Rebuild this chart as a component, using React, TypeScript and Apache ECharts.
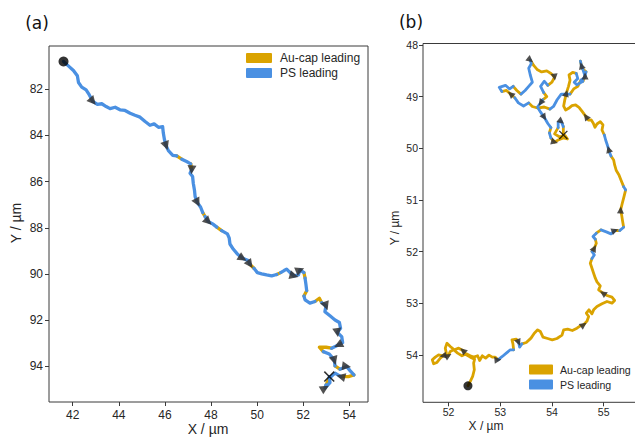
import React, { useEffect, useRef } from "react";
import * as echarts from "echarts";

// ---------- Panel (a) trajectory ----------
const aX = [41.60, 41.81, 42.03, 42.20, 42.25, 42.39, 42.58, 42.72, 42.87, 43.07, 43.26, 43.45, 43.62, 43.84, 44.05, 44.27, 44.49, 44.70, 44.92, 45.14, 45.35, 45.53, 45.72, 45.90, 45.93, 45.98, 46.05, 46.15, 46.34, 46.51, 46.73, 46.94, 47.12, 47.16, 47.09, 47.20, 47.23, 47.28, 47.31, 47.41, 47.55, 47.64, 47.74, 47.88, 48.07, 48.25, 48.46, 48.71, 48.79, 48.82, 48.97, 49.14, 49.37, 49.62, 49.69, 49.86, 50.01, 50.20, 50.41, 50.63, 50.85, 51.02, 51.17, 51.28, 51.43, 51.60, 51.79, 51.86, 52.03, 52.08, 52.12, 52.15, 52.03, 52.08, 52.29, 52.51, 52.70, 52.80, 52.99, 52.94, 53.16, 53.38, 53.57, 53.62, 53.48, 53.67, 53.71, 53.52, 53.23, 52.99, 52.70, 52.87, 53.13, 53.28, 53.35, 53.38, 53.59, 53.88, 54.03, 54.20, 53.96, 53.63, 53.38, 53.13, 52.99, 52.94, 53.16, 53.13];
const aY = [80.80, 80.99, 81.19, 81.42, 81.71, 81.91, 82.03, 82.25, 82.53, 82.66, 82.63, 82.75, 82.84, 82.78, 82.89, 82.92, 83.04, 83.13, 83.21, 83.40, 83.56, 83.50, 83.65, 83.62, 83.90, 84.19, 84.45, 84.66, 84.86, 84.89, 85.03, 85.13, 85.23, 85.49, 85.64, 85.78, 86.07, 86.36, 86.65, 86.91, 87.11, 87.34, 87.51, 87.73, 87.83, 87.97, 88.12, 88.26, 88.45, 88.70, 88.93, 89.13, 89.32, 89.42, 89.58, 89.75, 89.94, 89.99, 90.04, 90.08, 90.02, 89.94, 89.85, 89.79, 89.94, 90.08, 90.04, 89.82, 89.94, 90.18, 90.47, 90.72, 90.95, 91.12, 91.26, 91.19, 91.05, 91.24, 91.38, 91.63, 91.81, 91.99, 92.10, 92.35, 92.53, 92.71, 92.97, 93.07, 93.21, 93.17, 93.17, 93.36, 93.46, 93.64, 93.75, 93.98, 94.12, 94.00, 94.18, 94.37, 94.44, 94.44, 94.29, 94.51, 94.80, 94.94, 94.70, 94.44];
const aGoldSegs = [29, 32, 41, 45, 54, 60, 68, 71, 75, 76, 88, 89, 90, 95, 99, 100, 103];
const aMarkers = [8, 26, 33, 39, 43, 52, 54, 65, 67, 78, 84, 87, 94, 97, 101, 105];

// ---------- Panel (b) trajectory ----------
const bX = [52.374, 52.419, 52.465, 52.497, 52.484, 52.503, 52.419, 52.342, 52.277, 52.194, 52.110, 52.032, 51.968, 51.935, 51.955, 51.890, 51.806, 51.742, 51.684, 51.710, 51.774, 51.839, 51.916, 51.994, 52.032, 52.097, 52.174, 52.258, 52.342, 52.419, 52.484, 52.561, 52.600, 52.652, 52.716, 52.781, 52.845, 52.903, 52.955, 53.039, 53.116, 53.194, 53.258, 53.245, 53.226, 53.310, 53.355, 53.374, 53.419, 53.503, 53.594, 53.658, 53.723, 53.774, 53.826, 53.916, 54.006, 54.097, 54.194, 54.226, 54.303, 54.394, 54.484, 54.548, 54.613, 54.677, 54.710, 54.665, 54.716, 54.774, 54.806, 54.871, 54.968, 55.065, 55.161, 55.213, 55.161, 55.065, 54.987, 54.903, 54.935, 54.871, 54.839, 54.806, 54.774, 54.742, 54.774, 54.819, 54.774, 54.819, 54.858, 54.839, 54.794, 54.858, 54.948, 55.052, 55.142, 55.219, 55.310, 55.387, 55.368, 55.348, 55.329, 55.361, 55.394, 55.426, 55.387, 55.335, 55.297, 55.245, 55.213, 55.194, 55.142, 55.116, 55.097, 55.065, 55.039, 55.013, 54.968, 54.987, 54.935, 54.871, 54.832, 54.800, 54.761, 54.703, 54.658, 54.587, 54.523, 54.458, 54.387, 54.323, 54.265, 54.226, 54.245, 54.277, 54.32, 54.35, 54.33, 54.40, 54.47, 54.50, 54.43, 54.48, 54.60, 54.64, 54.60, 54.57, 54.55, 54.58, 54.66, 54.63, 54.56, 54.50, 54.42, 54.35, 54.18, 54.10, 54.03, 53.96, 53.85, 53.72, 53.62, 53.55, 53.45, 53.35, 53.28, 53.20, 53.12, 53.03, 52.98, 53.10, 53.18, 53.25, 53.32, 53.40, 53.48, 53.55, 53.62, 53.58, 53.55, 53.60, 53.58, 53.65, 53.72, 53.80, 53.90, 53.98, 54.05, 54.00, 53.92, 53.85, 53.78, 53.84, 53.90, 53.82, 53.78, 53.72, 53.78, 53.85, 53.92, 53.98, 53.95, 53.98, 54.05, 54.12, 54.22, 54.30, 54.25, 54.15, 54.05, 54.12, 54.12, 54.18, 54.22, 54.22];
const bY = [54.600, 54.516, 54.419, 54.290, 54.161, 54.084, 54.045, 54.000, 53.916, 53.871, 53.903, 53.839, 53.774, 53.871, 53.968, 54.019, 54.000, 54.045, 54.097, 54.174, 54.148, 54.065, 54.000, 54.019, 53.935, 53.903, 53.968, 54.019, 53.981, 54.019, 54.045, 54.019, 54.110, 54.019, 54.065, 54.006, 54.045, 54.045, 54.097, 54.032, 53.968, 53.903, 53.903, 53.787, 53.710, 53.697, 53.761, 53.852, 53.787, 53.761, 53.677, 53.581, 53.516, 53.548, 53.658, 53.684, 53.710, 53.684, 53.619, 53.516, 53.503, 53.529, 53.484, 53.439, 53.419, 53.348, 53.258, 53.194, 53.129, 53.206, 53.129, 53.065, 53.013, 52.968, 53.000, 52.948, 52.884, 52.852, 52.806, 52.742, 52.665, 52.587, 52.516, 52.419, 52.323, 52.226, 52.135, 52.065, 52.000, 51.935, 51.839, 51.761, 51.710, 51.645, 51.581, 51.619, 51.658, 51.594, 51.594, 51.529, 51.419, 51.290, 51.194, 51.065, 50.935, 50.806, 50.742, 50.613, 50.516, 50.432, 50.323, 50.226, 50.148, 50.084, 50.019, 49.916, 49.839, 49.742, 49.645, 49.548, 49.484, 49.529, 49.594, 49.516, 49.452, 49.452, 49.387, 49.290, 49.206, 49.161, 49.174, 49.226, 49.258, 49.181, 49.077, 48.935, 48.80, 48.68, 48.58, 48.53, 48.55, 48.65, 48.72, 48.77, 48.70, 48.60, 48.48, 48.40, 48.31, 48.45, 48.52, 48.63, 48.68, 48.80, 48.85, 48.95, 48.95, 49.06, 49.19, 49.24, 49.20, 49.22, 49.19, 49.12, 49.18, 49.12, 49.02, 48.95, 48.88, 48.90, 48.82, 48.78, 48.85, 48.80, 48.88, 48.95, 48.88, 48.80, 48.72, 48.58, 48.45, 48.36, 48.29, 48.40, 48.48, 48.52, 48.50, 48.55, 48.62, 48.72, 48.78, 48.70, 48.80, 48.92, 49.00, 49.06, 49.12, 49.20, 49.30, 49.40, 49.52, 49.60, 49.70, 49.80, 49.88, 49.84, 49.80, 49.82, 49.75, 49.78, 49.72, 49.60, 49.50, 49.48, 49.58, 49.74];
const bBlueSegs = [38, 39, 40, 41, 46, 47, 86, 87, 91, 92, 94, 95, 96, 98, 105, 112, 114, 115, 116, 140, 141, 142, 143, 145, 146, 147, 150, 151, 155, 156, 157, 158, 163, 164, 165, 169, 170, 171, 172, 175, 176, 177, 178, 179, 180, 181, 190, 191, 192, 195, 196, 197, 198, 199, 200, 202, 211, 212, 213];
const bMarkers = [8, 15, 23, 38, 46, 64, 78, 89, 97, 102, 114, 126, 135, 145, 147, 167, 182, 188, 196, 199, 204, 213];

// ---------- Axes ticks ----------
const xTicksA = [42, 44, 46, 48, 50, 52, 54];
const yTicksA = [82, 84, 86, 88, 90, 92, 94];
const xTicksB = [52, 53, 54, 55];
const yTicksB = [48, 49, 50, 51, 52, 53, 54];

const seriesNames = ["Au-cap leading", "PS leading"];
const GOLD = "#DAA300";
const BLUE = "#4A90E2";
const AXIS_COLOR = "#3a3a3a";
const TEXT_COLOR = "#262626";
const FONT = "Liberation Sans, Arial, sans-serif";

function runs(xs: number[], ys: number[], isGold: (i: number) => boolean, wantGold: boolean) {
  const out: number[][][] = [];
  let cur: number[][] | null = null;
  for (let i = 0; i < xs.length - 1; i++) {
    if (isGold(i) === wantGold) {
      if (!cur) {
        cur = [[xs[i], ys[i]]];
        out.push(cur);
      }
      cur.push([xs[i + 1], ys[i + 1]]);
    } else {
      cur = null;
    }
  }
  return out.map((c) => ({ coords: c }));
}

function markerData(xs: number[], ys: number[], idx: number[]) {
  return idx.map((i) => {
    const i0 = Math.max(0, i - 1);
    const i1 = Math.min(xs.length - 1, i + 1);
    const dx = xs[i1] - xs[i0];
    const dy = ys[i1] - ys[i0];
    return { value: [xs[i], ys[i]], symbolRotate: (Math.atan2(-dx, -dy) * 180) / Math.PI };
  });
}

const X_PATH = "path://M1,0 L5,4 L9,0 L10,1 L6,5 L10,9 L9,10 L5,6 L1,10 L0,9 L4,5 L0,1 Z";

function makeAxis(gi: number, min: number, max: number, ticks: number[], fs: number, inverse: boolean, margin: number) {
  return {
    type: "value",
    gridIndex: gi,
    min,
    max,
    inverse,
    axisLine: { show: false },
    axisTick: { show: true, customValues: ticks, length: 4, lineStyle: { color: AXIS_COLOR, width: 1 } },
    axisLabel: { customValues: ticks, fontSize: fs, color: TEXT_COLOR, fontFamily: FONT, margin, formatter: (v: number) => String(v) },
    splitLine: { show: false },
  };
}

export default function App() {
  const ref = useRef<HTMLDivElement>(null);
  useEffect(() => {
    if (!ref.current) return;
    const chart = echarts.init(ref.current, undefined, { renderer: "svg" });
    const aGold = new Set(aGoldSegs);
    const bBlue = new Set(bBlueSegs);
    const aIsGold = (i: number) => aGold.has(i);
    const bIsGold = (i: number) => !bBlue.has(i);

    const lineSeries = (gi: number, name: string, color: string, width: number, data: any[], z: number) => ({
      type: "lines",
      name,
      coordinateSystem: "cartesian2d",
      xAxisIndex: gi,
      yAxisIndex: gi,
      polyline: true,
      silent: true,
      z,
      itemStyle: { color },
      lineStyle: { color, width, opacity: 1, cap: "round", join: "round" },
      data,
    });

    const legendData = [
      { name: seriesNames[0], itemStyle: { color: GOLD } },
      { name: seriesNames[1], itemStyle: { color: BLUE } },
    ];

    chart.setOption({
      animation: false,
      backgroundColor: "#ffffff",
      grid: [
        { left: 49, top: 46, width: 319, height: 356, show: true, borderColor: AXIS_COLOR, borderWidth: 1, backgroundColor: "transparent" },
        { left: 423, top: 43.5, width: 215, height: 358.8, show: true, borderColor: AXIS_COLOR, borderWidth: 1, backgroundColor: "transparent" },
      ],
      xAxis: [makeAxis(0, 40.97, 54.81, xTicksA, 12, false, 7), makeAxis(1, 51.504, 55.665, xTicksB, 10.5, false, 4)],
      yAxis: [makeAxis(0, 80.13, 95.54, yTicksA, 12, true, 6), makeAxis(1, 47.97, 54.92, yTicksB, 10.5, true, 5)],
      legend: [
        {
          left: 246, top: 52, orient: "vertical", padding: 0, itemWidth: 24, itemHeight: 8, itemGap: 3,
          icon: "rect", selectedMode: false, data: legendData,
          textStyle: { fontSize: 12, color: TEXT_COLOR, fontFamily: FONT, padding: [0, 0, 0, 4] },
        },
        {
          left: 529, top: 364, orient: "vertical", padding: 0, itemWidth: 22, itemHeight: 8, itemGap: 4,
          icon: "rect", selectedMode: false, data: legendData,
          textStyle: { fontSize: 10.6, color: TEXT_COLOR, fontFamily: FONT, padding: [0, 0, 0, 3] },
        },
      ],
      series: [
        lineSeries(0, seriesNames[0], GOLD, 3.3, runs(aX, aY, aIsGold, true), 2),
        lineSeries(0, seriesNames[1], BLUE, 3.3, runs(aX, aY, aIsGold, false), 3),
        lineSeries(1, seriesNames[0], GOLD, 2.8, runs(bX, bY, bIsGold, true), 2),
        lineSeries(1, seriesNames[1], BLUE, 2.8, runs(bX, bY, bIsGold, false), 3),
        {
          type: "scatter", xAxisIndex: 0, yAxisIndex: 0, symbol: "triangle", symbolSize: 9, silent: true, z: 5,
          itemStyle: { color: "#333333", opacity: 0.85 }, data: markerData(aX, aY, aMarkers),
        },
        {
          type: "scatter", xAxisIndex: 1, yAxisIndex: 1, symbol: "triangle", symbolSize: 7, silent: true, z: 5,
          itemStyle: { color: "#333333", opacity: 0.85 }, data: markerData(bX, bY, bMarkers),
        },
        {
          type: "scatter", xAxisIndex: 0, yAxisIndex: 0, symbol: "circle", symbolSize: 10, silent: true, z: 6,
          itemStyle: { color: "#000000" }, data: [[aX[0], aY[0]]],
        },
        {
          type: "scatter", xAxisIndex: 0, yAxisIndex: 0, symbol: X_PATH, symbolSize: 11, silent: true, z: 6,
          itemStyle: { color: "#000000" }, data: [[aX[aX.length - 1], aY[aY.length - 1]]],
        },
        {
          type: "scatter", xAxisIndex: 1, yAxisIndex: 1, symbol: "circle", symbolSize: 9, silent: true, z: 6,
          itemStyle: { color: "#000000" }, data: [[bX[0], bY[0]]],
        },
        {
          type: "scatter", xAxisIndex: 1, yAxisIndex: 1, symbol: X_PATH, symbolSize: 9, silent: true, z: 6,
          itemStyle: { color: "#000000" }, data: [[bX[bX.length - 1], bY[bY.length - 1]]],
        },
      ],
      graphic: [
        { type: "text", x: 37, y: 23, style: { text: "(a)", fontSize: 17, fontFamily: "DejaVu Sans", fill: "#111", align: "center", verticalAlign: "middle", textAlign: "center", textVerticalAlign: "middle" } },
        { type: "text", x: 411, y: 22, style: { text: "(b)", fontSize: 17, fontFamily: "DejaVu Sans", fill: "#111", align: "center", verticalAlign: "middle", textAlign: "center", textVerticalAlign: "middle" } },
        { type: "text", x: 208, y: 429, style: { text: "X / µm", fontSize: 14, fontFamily: FONT, fill: TEXT_COLOR, align: "center", verticalAlign: "middle", textAlign: "center", textVerticalAlign: "middle" } },
        { type: "text", x: 16, y: 223, rotation: Math.PI / 2, style: { text: "Y / µm", fontSize: 14, fontFamily: FONT, fill: TEXT_COLOR, align: "center", verticalAlign: "middle", textAlign: "center", textVerticalAlign: "middle" } },
        { type: "text", x: 486, y: 426, style: { text: "X / µm", fontSize: 12, fontFamily: FONT, fill: TEXT_COLOR, align: "center", verticalAlign: "middle", textAlign: "center", textVerticalAlign: "middle" } },
        { type: "text", x: 395, y: 228, rotation: Math.PI / 2, style: { text: "Y / µm", fontSize: 12, fontFamily: FONT, fill: TEXT_COLOR, align: "center", verticalAlign: "middle", textAlign: "center", textVerticalAlign: "middle" } },
      ],
    });
    return () => chart.dispose();
  }, []);

  return (
    <div style={{ position: "absolute", left: 0, top: 0, width: 635, height: 438, overflow: "hidden", background: "#fff" }}>
      <div ref={ref} style={{ width: 660, height: 438 }} />
    </div>
  );
}
